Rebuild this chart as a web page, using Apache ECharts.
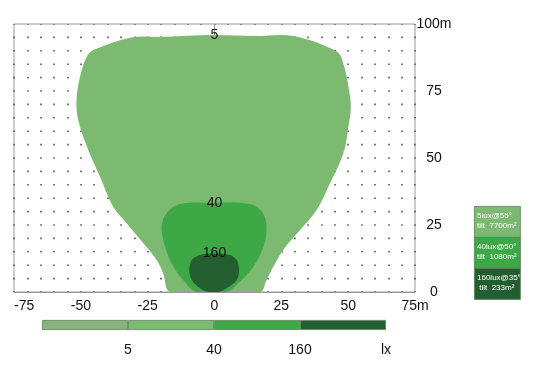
<!DOCTYPE html>
<html>
<head>
<meta charset="utf-8">
<script src="https://cdn.jsdelivr.net/npm/echarts@6/dist/echarts.min.js"></script>
<style>
  html, body { margin: 0; padding: 0; background: #fff; }
  #main { width: 544px; height: 376px; }
</style>
</head>
<body>
<div id="main"></div>
<script>
// isolux contours, metres (x = lateral, y = distance)
var lux5X = [-16.5, -19.2, -21.6, -26.6, -32.8, -37.9, -42.8, -47.2, -51.0, -51.6, -50.3, -47.8, -45.3, -31.0, -20.0, -0.4, 15.0, 29.5, 45.7, 48.2, 50.1, 51.0, 50.1, 48.2, 43.2, 38.2, 32.0, 25.7, 22.0, 19.5, 17.0];
var lux5Y = [0, 7.0, 11.9, 18.2, 25.6, 31.8, 43.0, 53.0, 64.2, 71.6, 80.3, 87.8, 90.3, 95.0, 95.2, 95.9, 95.5, 95.5, 89.7, 85.3, 76.6, 69.1, 61.7, 51.8, 40.6, 30.6, 23.1, 15.7, 9.4, 4.5, 0];
var lux40X = [-6.7, -11.7, -15.4, -18.5, -19.8, -17.9, -12.9, -0.4, 13.3, 17.7, 19.5, 18.3, 14.5, 9.5, 4.6];
var lux40Y = [0, 4.5, 9.4, 16.9, 24.4, 29.4, 32.8, 33.3, 32.8, 30.0, 24.4, 16.9, 9.4, 3.8, 0];
var lux160X = [-2.3, -5.4, -8.5, -9.4, -8.5, -5.4, -0.4, 5.8, 8.3, 9.2, 8.3, 4.5, 1.4];
var lux160Y = [0, 1.4, 4.5, 8.2, 11.9, 13.8, 14.4, 13.8, 11.9, 8.2, 4.5, 1.4, 0];

var contourNames = ['5', '40', '160'];
var contourColors = ['#7bba70', '#3ea846', '#235e31'];

// colour scale under the chart
var scaleSteps = [1, 1, 1, 1];
var scaleColors = ['#88b380', '#7bba70', '#3ea846', '#235e31'];
var scaleLabels = ['', '5', '40', '160', 'lx'];

// legend box on the right
var legendLines = ['5lux@55°\ntilt  7700m²', '40lux@50°\ntilt  1080m²', '160lux@35°\n tilt  233m²'];
var legendColors = ['#7bba70', '#3ea846', '#235e31'];

var contours = [
  { xs: lux5X, ys: lux5Y },
  { xs: lux40X, ys: lux40Y },
  { xs: lux160X, ys: lux160Y }
];

var myChart = echarts.init(document.getElementById('main'));

var font = 'Liberation Sans, Arial, sans-serif';

var legendGraphics = [];
legendLines.forEach(function (txt, i) {
  legendGraphics.push({
    type: 'rect',
    left: 474, top: 206 + i * 31,
    shape: { width: 46, height: 31 },
    style: { fill: legendColors[i], stroke: '#5c7f58', lineWidth: 0.8 }
  });
  legendGraphics.push({
    type: 'text',
    left: 477, top: 211 + i * 31,
    style: { text: txt, fill: '#fff', font: '8px ' + font, lineHeight: 10 }
  });
});

var option = {
  animation: false,
  backgroundColor: '#fff',
  textStyle: { fontFamily: font },
  grid: [
    { left: 14, top: 24, width: 401, height: 268, show: true, borderColor: '#999', borderWidth: 1 },
    { left: 42, top: 320, width: 344, height: 10 }
  ],
  xAxis: [
    {
      type: 'value', min: -75, max: 75, interval: 5,
      axisLine: { lineStyle: { color: '#999' } },
      axisTick: { show: false },
      axisLabel: {
        color: '#111', fontSize: 14, margin: 7, showMinLabel: true, showMaxLabel: true,
        alignMinLabel: 'left',
        formatter: function (v) {
          if (v % 25 !== 0) return '';
          return v === 75 ? '75m' : String(v);
        }
      },
      splitLine: {
        show: true,
        lineStyle: { color: '#555', width: 1.6, type: [1.6, 11.8], dashOffset: 0.8 }
      }
    },
    {
      gridIndex: 1, type: 'value', min: 0, max: 4, interval: 1,
      axisLine: { show: false }, axisTick: { show: false }, splitLine: { show: false },
      axisLabel: {
        color: '#111', fontSize: 14, margin: 13,
        formatter: function (v) { return scaleLabels[v]; }
      }
    }
  ],
  yAxis: [
    {
      type: 'value', min: 0, max: 100, interval: 5, position: 'right',
      axisLine: { show: true, lineStyle: { color: '#999' } },
      axisTick: { show: false },
      splitLine: { show: false },
      axisLabel: {
        color: '#111', fontSize: 14, margin: 19, align: 'center',
        formatter: function (v) {
          if (v % 25 !== 0) return '';
          return v === 100 ? '100m' : String(v);
        }
      }
    },
    {
      gridIndex: 1, type: 'category', data: ['lx'], show: false
    }
  ],
  series: [
    {
      type: 'custom',
      clip: true,
      data: contourNames.map(function (n, i) { return [i]; }),
      renderItem: function (params, api) {
        var c = contours[params.dataIndex];
        var pts = c.xs.map(function (x, k) { return api.coord([x, c.ys[k]]); });
        var topY = Math.max.apply(null, c.ys);
        var lp = api.coord([0, topY]);
        return {
          type: 'group',
          children: [
            {
              type: 'polygon',
              shape: { points: pts, smooth: 0.35 },
              style: { fill: contourColors[params.dataIndex] }
            },
            {
              type: 'text',
              x: lp[0], y: lp[1],
              style: {
                text: contourNames[params.dataIndex],
                fill: '#111', font: '14px ' + font,
                align: 'center', verticalAlign: 'middle'
              },
              z2: 10
            }
          ]
        };
      }
    }
  ].concat(scaleSteps.map(function (s, i) {
    return {
      type: 'bar', xAxisIndex: 1, yAxisIndex: 1, stack: 'scale',
      barWidth: '100%', data: [s],
      itemStyle: { color: scaleColors[i], borderColor: '#5f7f5b', borderWidth: 0.8 }
    };
  })),
  graphic: legendGraphics
};

myChart.setOption(option);
</script>
</body>
</html>
